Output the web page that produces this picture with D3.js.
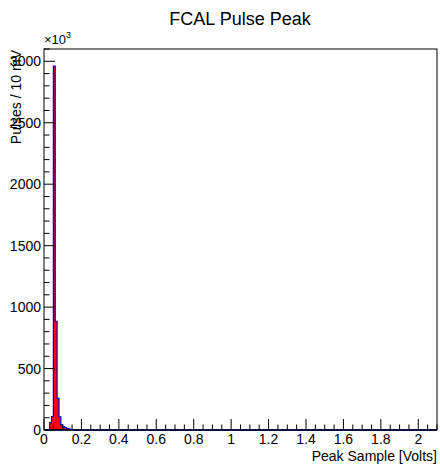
<!DOCTYPE html>
<html><head><meta charset="utf-8">
<script src="https://cdn.jsdelivr.net/npm/d3@7"></script>
<style>body{margin:0;background:#fff;} svg{display:block;font-family:"Liberation Sans",Arial,sans-serif;}</style>
</head><body>
<svg id="c" width="440" height="467"></svg>
<script>
const title = "FCAL Pulse Peak";
const xLabel = "Peak Sample [Volts]";
const yLabel = "Pulses / 10 mV";
const binWidth = 0.01;
const binStarts = [0.00,0.01,0.02,0.03,0.04,0.05,0.06,0.07,0.08,0.09,0.10,0.11,0.12,0.13,0.14,0.15,0.16,0.17,0.18,0.19];
const counts =    [0,   0,   0,   60,  110, 2960,885, 258, 108, 42,  28,  20,  12,  8,   5,   3,   2,   1,   1,   0];
const xTicks = [0,0.2,0.4,0.6,0.8,1,1.2,1.4,1.6,1.8,2];
const yTicks = [0,500,1000,1500,2000,2500,3000];

const svg = d3.select("#c");
const L=44,R=437,T=49,B=430;
const x = d3.scaleLinear().domain([0,2.1]).range([L,R]);
const y = d3.scaleLinear().domain([0,3100]).range([B,T]);

const pts = [];
pts.push([x(0), y(0)]);
binStarts.forEach((s,i)=>{
  pts.push([x(s), y(counts[i])]);
  pts.push([x(s+binWidth), y(counts[i])]);
});
pts.push([x(2.1), y(0)]);
const line = d3.line();
svg.append("path").attr("d", line(pts.concat([[x(0),y(0)]])) + "Z")
  .attr("fill","#ff0000").attr("stroke","none");
svg.append("path").attr("d", line(pts)).attr("fill","none")
  .attr("stroke","#0000cc").attr("stroke-width",1.2);

// frame
svg.append("rect").attr("x",L).attr("y",T).attr("width",R-L).attr("height",B-T)
  .attr("fill","none").attr("stroke","#000").attr("stroke-width",1);
svg.append("line").attr("x1",L).attr("x2",R).attr("y1",B).attr("y2",B)
  .attr("stroke","#000033").attr("stroke-width",1.5);

// x axis
const xMinor = d3.range(0,2.1001,0.05);
svg.append("g").selectAll("line").data(xMinor).join("line")
  .attr("x1",d=>x(d)).attr("x2",d=>x(d)).attr("y1",B)
  .attr("y2",d=>Math.abs(d/0.2-Math.round(d/0.2))<1e-6 ? B-11 : B-5.5)
  .attr("stroke","#000").attr("stroke-width",1);
svg.append("g").selectAll("text").data(xTicks).join("text")
  .attr("x",d=>x(d)).attr("y",444).attr("text-anchor","middle")
  .attr("font-size",14).text(d=>d3.format("~g")(d));

// y axis
const yMinor = d3.range(0,3101,100);
svg.append("g").selectAll("line").data(yMinor).join("line")
  .attr("y1",d=>y(d)).attr("y2",d=>y(d)).attr("x1",L)
  .attr("x2",d=>d%500===0 ? L+11 : L+5.5)
  .attr("stroke","#000").attr("stroke-width",1);
svg.append("g").selectAll("text").data(yTicks).join("text")
  .attr("x",41).attr("y",d=>y(d)+5).attr("text-anchor","end")
  .attr("font-size",14).text(d=>d);

const mult = svg.append("text").attr("x",44).attr("y",44).attr("font-size",13);
mult.append("tspan").text("\u00d710");
mult.append("tspan").attr("dy",-6).attr("font-size",9).text("3");

svg.append("text").attr("x",240).attr("y",25).attr("text-anchor","middle")
  .attr("font-size",18).text(title);
svg.append("text").attr("x",437).attr("y",461).attr("text-anchor","end")
  .attr("font-size",14).text(xLabel);
svg.append("text").attr("transform","translate(21,50) rotate(-90)")
  .attr("text-anchor","end").attr("font-size",14).text(yLabel);
</script>
</body></html>
